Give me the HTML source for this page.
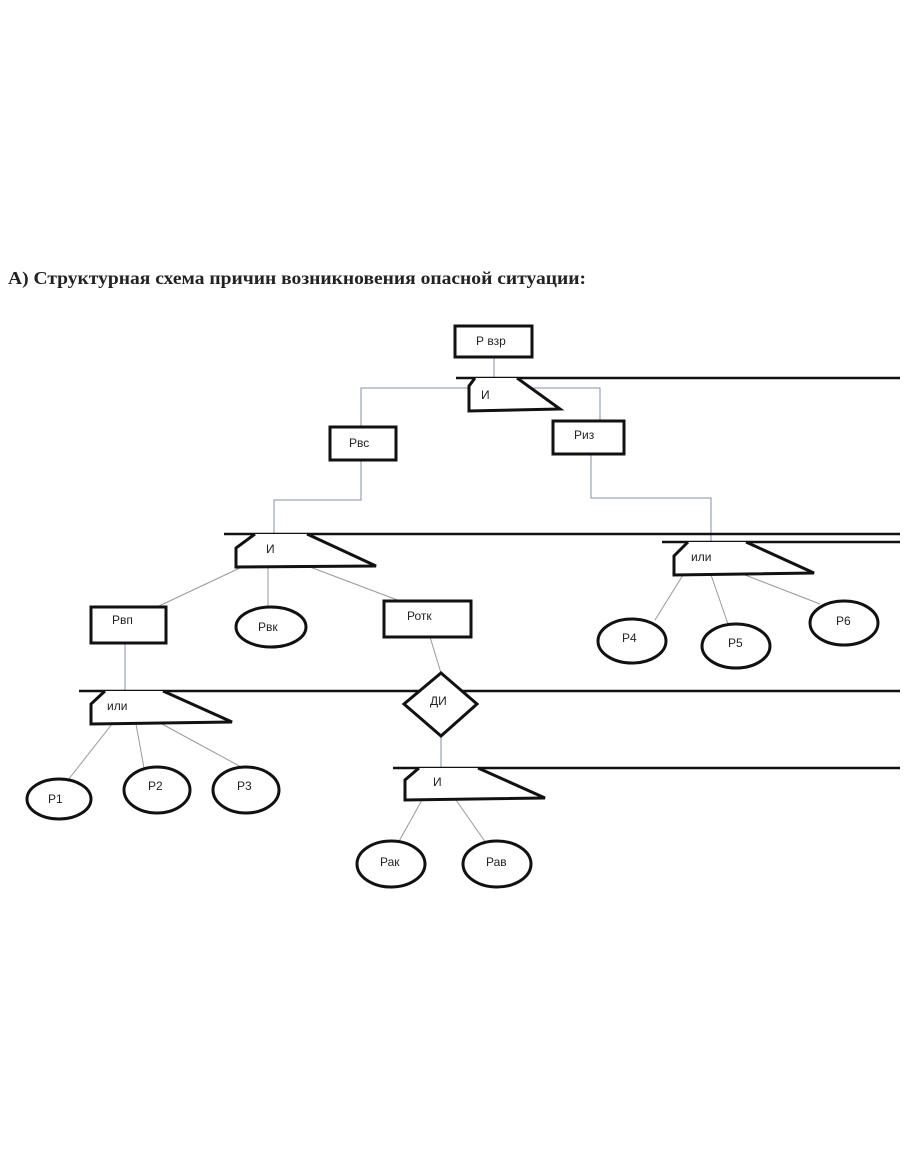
<!DOCTYPE html>
<html><head><meta charset="utf-8"><style>
html,body{margin:0;padding:0;background:#fff;}
svg{display:block;}
text{font-family:"Liberation Sans","DejaVu Sans",sans-serif;font-size:12px;fill:#222;}
.t{font-family:"Liberation Serif","DejaVu Serif",serif;font-weight:bold;font-size:18px;fill:#222;}
</style></head><body>
<svg width="910" height="1155" viewBox="0 0 910 1155" xmlns="http://www.w3.org/2000/svg">
<text class="t" x="8" y="284" textLength="578" lengthAdjust="spacingAndGlyphs">А) Структурная схема причин возникновения опасной ситуации:</text>

<g stroke="#8090a8" stroke-width="1" fill="none">
<line x1="494" y1="357" x2="494" y2="378"/>
<polyline points="469,388 361,388 361,427"/>
<polyline points="515,388 600,388 600,421"/>
<polyline points="361,460 361,500 274,500 274,534"/>
<polyline points="591,454 591,498 711,498 711,542"/>
<line x1="125" y1="643" x2="125" y2="691"/>
<line x1="441" y1="736" x2="441" y2="768"/>
</g>
<g stroke="#999" stroke-width="1" fill="none">
<line x1="242" y1="567" x2="159" y2="606"/>
<line x1="268" y1="567" x2="268" y2="607"/>
<line x1="310" y1="567" x2="400" y2="601"/>
<line x1="430" y1="637" x2="441" y2="673"/>
<line x1="112" y1="724" x2="68" y2="780"/>
<line x1="136" y1="724" x2="144" y2="768"/>
<line x1="162" y1="724" x2="243" y2="768"/>
<line x1="422" y1="800" x2="398" y2="843"/>
<line x1="456" y1="800" x2="486" y2="843"/>
<line x1="683" y1="575" x2="655" y2="620"/>
<line x1="711" y1="575" x2="728" y2="624"/>
<line x1="745" y1="575" x2="820" y2="604"/>
</g>

<g stroke="#111" stroke-width="2.5" fill="none">
<line x1="456" y1="378" x2="900" y2="378"/>
<line x1="224" y1="534" x2="900" y2="534"/>
<line x1="662" y1="542" x2="900" y2="542"/>
<line x1="79" y1="691" x2="900" y2="691"/>
<line x1="393" y1="768" x2="900" y2="768"/>
</g>
<g stroke="#111" stroke-width="3" fill="#fff">
<rect x="455" y="326" width="77" height="31"/>
<rect x="330" y="427" width="66" height="33"/>
<rect x="553" y="421" width="71" height="33"/>
<rect x="91" y="607" width="75" height="36"/>
<rect x="384" y="601" width="87" height="36"/>
<ellipse cx="271" cy="627" rx="35" ry="20"/>
<ellipse cx="59" cy="799" rx="32" ry="20"/>
<ellipse cx="157" cy="790" rx="33" ry="23"/>
<ellipse cx="246" cy="790" rx="33" ry="23"/>
<ellipse cx="391" cy="864" rx="34" ry="23"/>
<ellipse cx="497" cy="864" rx="34" ry="23"/>
<ellipse cx="632" cy="641" rx="34" ry="22"/>
<ellipse cx="736" cy="646" rx="34" ry="22"/>
<ellipse cx="844" cy="623" rx="34" ry="22"/>
<polygon points="441,673 477,704 441,736 404,704"/>
</g>
<g stroke="#111" stroke-width="3" fill="#fff" stroke-linejoin="miter">
<polyline points="475,378 469,386 469,411 560,409 517,378"/>
<polyline points="255,534 236,548 236,567 376,566 307,534"/>
<polyline points="688,542 674,556 674,575 814,573 746,542"/>
<polyline points="105,691 91,704 91,724 232,722 163,691"/>
<polyline points="419,768 405,780 405,800 545,798 478,768"/>
</g>

<text x="476" y="345">Р взр</text>
<text x="349" y="447">Рвс</text>
<text x="574" y="439">Риз</text>
<text x="481" y="399">И</text>
<text x="266" y="553">И</text>
<text x="691" y="561">или</text>
<text x="112" y="646" dy="-22">Рвп</text>
<text x="258" y="631">Рвк</text>
<text x="407" y="620">Ротк</text>
<text x="107" y="710">или</text>
<text x="430" y="705">ДИ</text>
<text x="433" y="786">И</text>
<text x="48" y="803">Р1</text>
<text x="148" y="790">Р2</text>
<text x="237" y="790">Р3</text>
<text x="380" y="866">Рак</text>
<text x="486" y="866">Рав</text>
<text x="622" y="642">Р4</text>
<text x="728" y="647">Р5</text>
<text x="836" y="625">Р6</text>
</svg>
</body></html>
